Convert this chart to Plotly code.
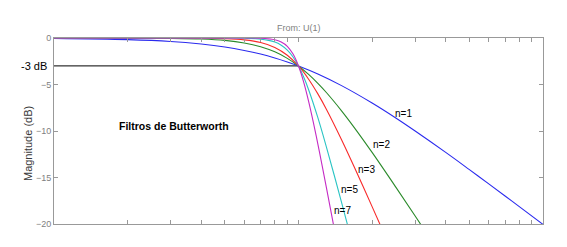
import math
import plotly.graph_objects as go

# Frequency (rad/s) and magnitude (dB)
w1 = [0.1, 0.2, 0.3, 0.4, 0.5, 0.6, 0.7, 0.8, 0.9, 1.0, 1.2, 1.5, 2.0, 2.5, 3.0, 4.0, 5.0, 6.0, 8.0, 10.0]
db1 = [-0.04, -0.17, -0.37, -0.65, -0.97, -1.34, -1.73, -2.15, -2.58, -3.01, -3.87, -5.12, -6.99, -8.60, -10.0, -12.30, -14.15, -15.68, -18.13, -20.04]

w2 = [0.1, 0.2, 0.3, 0.4, 0.5, 0.6, 0.7, 0.8, 0.9, 1.0, 1.1, 1.2, 1.3, 1.5, 1.7, 2.0, 2.5, 3.0, 3.5]
db2 = [0.0, -0.01, -0.04, -0.11, -0.26, -0.53, -0.94, -1.49, -2.19, -3.01, -3.92, -4.88, -5.86, -7.83, -9.71, -12.30, -16.03, -19.14, -21.79]

w3 = [0.1, 0.3, 0.4, 0.5, 0.6, 0.7, 0.8, 0.9, 1.0, 1.1, 1.2, 1.3, 1.5, 1.7, 2.0, 2.2]
db3 = [0.0, -0.003, -0.02, -0.07, -0.20, -0.48, -1.01, -1.85, -3.01, -4.43, -6.01, -7.65, -10.93, -14.00, -18.13, -20.58]

w5 = [0.1, 0.5, 0.6, 0.7, 0.8, 0.85, 0.9, 0.95, 1.0, 1.05, 1.1, 1.2, 1.3, 1.4, 1.5, 1.6]
db5 = [0.0, -0.004, -0.03, -0.12, -0.44, -0.78, -1.30, -2.04, -3.01, -4.20, -5.56, -8.57, -11.70, -14.76, -17.68, -20.45]

w7 = [0.1, 0.6, 0.7, 0.8, 0.85, 0.9, 0.95, 1.0, 1.05, 1.1, 1.15, 1.2, 1.25, 1.3, 1.35, 1.4]
db7 = [0.0, -0.003, -0.03, -0.19, -0.43, -0.89, -1.73, -3.01, -4.74, -6.81, -9.07, -11.41, -13.75, -16.06, -18.31, -20.50]

cut_w = [0.1, 1.0]
cut_db = [-3, -3]

series = [
    ("n=1", w1, db1, "#2a2aee"),
    ("n=2", w2, db2, "#2a8a2a"),
    ("n=3", w3, db3, "#f82a2a"),
    ("n=5", w5, db5, "#2ac4c4"),
    ("n=7", w7, db7, "#c42ac4"),
]

label_pos = {"n=1": (2.70, -8.1), "n=2": (2.19, -11.4), "n=3": (1.89, -14.1),
             "n=5": (1.62, -16.3), "n=7": (1.51, -18.5)}

FONT = "Liberation Sans, Arial, sans-serif"
GRAY = "#7f7f7f"

fig = go.Figure()
fig.add_trace(go.Scatter(x=cut_w, y=cut_db, mode="lines",
                         line=dict(color="black", width=1), showlegend=False,
                         hoverinfo="skip"))
for name, w, db, col in series:
    fig.add_trace(go.Scatter(x=w, y=db, mode="lines", name=name,
                             line=dict(color=col, width=1.1, shape="spline"),
                             showlegend=False))

ann = []
for name, (lx, ly) in label_pos.items():
    ann.append(dict(x=math.log10(lx), y=ly, xref="x", yref="y", text=name,
                    showarrow=False, font=dict(family=FONT, size=10, color="black")))
ann.append(dict(x=math.log10(0.311), y=-9.46, xref="x", yref="y",
                text="<b>Filtros de Butterworth</b>", showarrow=False,
                font=dict(family=FONT, size=10.5, color="black")))
ann.append(dict(x=0, y=-3, xref="paper", yref="y", xanchor="right", text="-3 dB",
                xshift=-5, showarrow=False, font=dict(family=FONT, size=11, color="black")))
ann.append(dict(x=0.5, y=1, xref="paper", yref="paper", yanchor="bottom", yshift=3,
                text="From: U(1)", showarrow=False,
                font=dict(family=FONT, size=9, color=GRAY)))
ann.append(dict(x=-0.0695, y=0.43, xref="paper", yref="paper", textangle=-90,
                text="Magnitude (dB)", showarrow=False,
                font=dict(family=FONT, size=11, color="#3a3a3a")))

fig.update_layout(
    width=567, height=247,
    margin=dict(l=54, r=24, t=38, b=23),
    paper_bgcolor="white", plot_bgcolor="white",
    annotations=ann,
    font=dict(family=FONT),
)
fig.update_xaxes(type="log", range=[-1, 1], showgrid=False, zeroline=False,
                 showline=True, linecolor="#999999", linewidth=1, mirror="ticks",
                 ticks="inside", ticklen=4, tickcolor="#999999",
                 tickvals=[0.1, 0.2, 0.3, 0.4, 0.5, 0.6, 0.7, 0.8, 0.9, 1, 2, 3, 4, 5, 6, 7, 8, 9, 10],
                 showticklabels=False)
fig.update_yaxes(range=[-20, 0], showgrid=False, zeroline=False,
                 showline=True, linecolor="#999999", linewidth=1, mirror="ticks",
                 ticks="inside", ticklen=4, tickcolor="#999999",
                 tickvals=[0, -5, -10, -15, -20],
                 tickfont=dict(family=FONT, size=9, color=GRAY))

fig.write_html("out.html")
